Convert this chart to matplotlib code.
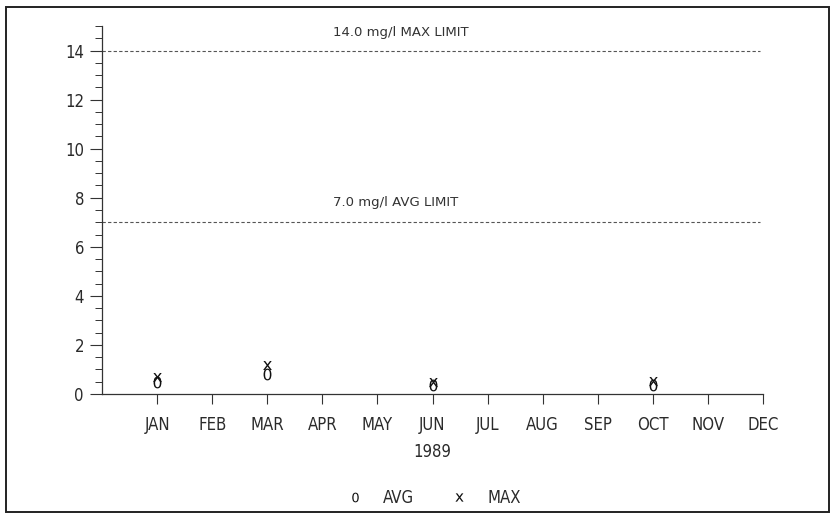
import matplotlib
matplotlib.use("Agg")
import matplotlib.pyplot as plt
from matplotlib.patches import Rectangle
from matplotlib.lines import Line2D

# Monthly sample results, 1989 (mg/l)
month_labels = ["JAN", "FEB", "MAR", "APR", "MAY", "JUN",
                "JUL", "AUG", "SEP", "OCT", "NOV", "DEC"]
sample_months = ["JAN", "MAR", "JUN", "OCT"]
avg_values = [0.5, 0.8, 0.35, 0.35]
max_values = [0.7, 1.2, 0.5, 0.55]

max_limit = 14.0
avg_limit = 7.0
year_label = "1989"

INK = "#2a2a2a"
FONT = dict(family="DejaVu Sans", fontstretch="condensed", color=INK, fontweight="light")

fig = plt.figure(figsize=(8.31, 5.23), dpi=100)
fig.patch.set_facecolor("white")

# outer frame
fig.add_artist(Rectangle((6 / 831, 1 - 512 / 523), (829 - 6) / 831, (512 - 7) / 523,
                         transform=fig.transFigure, fill=False,
                         edgecolor="#222222", linewidth=1.4))

ax = fig.add_axes([102 / 831, 1 - 394 / 523, (763 - 102) / 831, (394 - 26) / 523])
ax.set_xlim(0, 12)
ax.set_ylim(0, 15)
for side in ("top", "right"):
    ax.spines[side].set_visible(False)
for side in ("left", "bottom"):
    ax.spines[side].set_linewidth(0.9)
    ax.spines[side].set_color("#333333")

ax.set_xticks(range(1, 13))
ax.set_xticklabels(month_labels, fontsize=12, **FONT)
ax.set_yticks(range(0, 15, 2))
ax.set_yticklabels([str(v) for v in range(0, 15, 2)], fontsize=12, **FONT)
ax.set_yticks([v * 0.5 for v in range(0, 31)], minor=True)
ax.tick_params(axis="x", direction="out", length=7, width=0.8, colors="#333333", pad=9)
ax.tick_params(axis="y", which="major", direction="out", length=9, width=0.8,
               colors="#333333", pad=4)
ax.tick_params(axis="y", which="minor", direction="out", length=5, width=0.7,
               colors="#333333")
for lbl in ax.get_xticklabels() + ax.get_yticklabels():
    lbl.set_color(INK)

# regulatory limits
ax.axhline(max_limit, xmin=0, xmax=11.95 / 12, color="#555555",
           linestyle=(0, (3, 2)), linewidth=0.8)
ax.axhline(avg_limit, xmin=0, xmax=11.95 / 12, color="#555555",
           linestyle=(0, (3, 2)), linewidth=0.8)
LIMIT_FONT = dict(family="DejaVu Sans", color="#333333")
ax.text(4.2, max_limit + 0.75, f"{max_limit:.1f} mg/l MAX LIMIT", fontsize=9.5,
        ha="left", va="center", **LIMIT_FONT)
ax.text(4.2, avg_limit + 0.8, f"{avg_limit:.1f} mg/l AVG LIMIT", fontsize=9.5,
        ha="left", va="center", **LIMIT_FONT)

xpos = [month_labels.index(m) + 1 for m in sample_months]
avg_marker = r"$\mathrm{0}$"
max_marker = r"$\mathrm{x}$"
ax.plot(xpos, avg_values, linestyle="none", marker=avg_marker, markersize=8.5,
        color="#111111", markeredgewidth=0)
ax.plot(xpos, max_values, linestyle="none", marker=max_marker, markersize=6.5,
        color="#111111", markeredgewidth=0)

ax.set_xlabel(year_label, fontsize=12, labelpad=6, **FONT)

handles = [
    Line2D([], [], linestyle="none", marker=avg_marker, markersize=7,
           color="#111111", markeredgewidth=0),
    Line2D([], [], linestyle="none", marker=max_marker, markersize=6,
           color="#111111", markeredgewidth=0),
]
leg = fig.legend(handles, ["AVG", "MAX"], loc="center",
                 bbox_to_anchor=(434 / 831, 1 - 498 / 523), ncol=2, frameon=False,
                 handlelength=1.0, handletextpad=1.2, columnspacing=2.2,
                 prop=dict(family="DejaVu Sans", stretch="condensed", size=12,
                           weight="light"))
for t in leg.get_texts():
    t.set_color(INK)

fig.savefig("out.png", dpi=100, facecolor="white")
